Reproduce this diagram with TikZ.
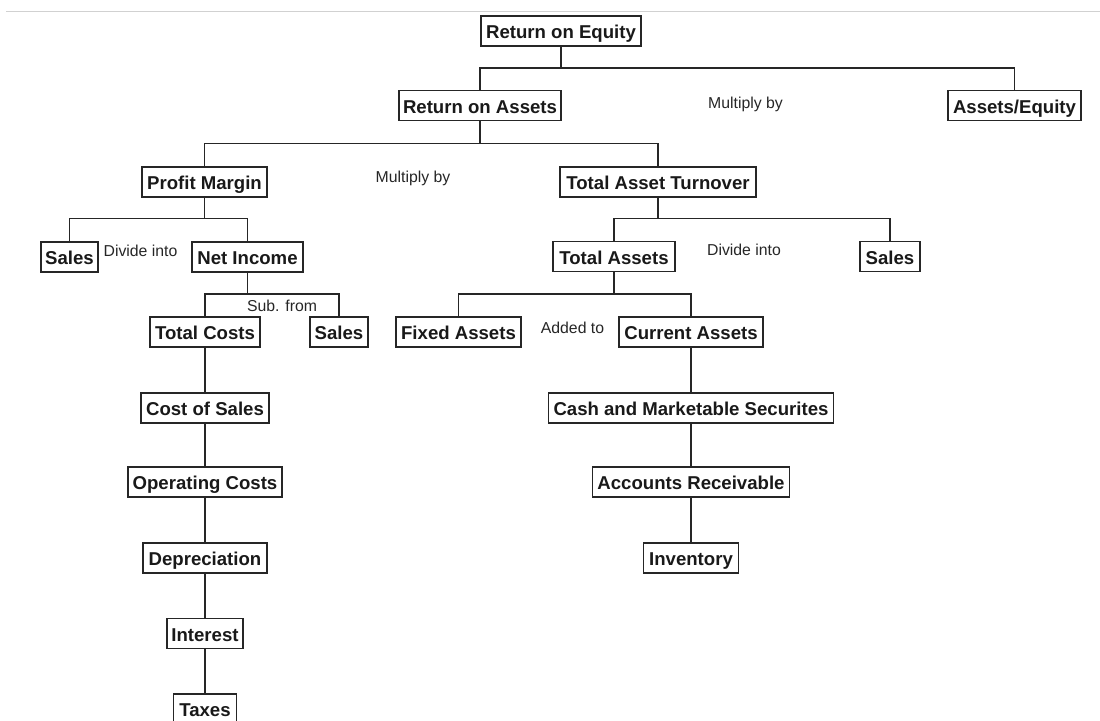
\documentclass[tikz,border=0pt]{standalone}
\usepackage{fontspec}
\setmainfont{Liberation Sans}
\begin{document}
\begin{tikzpicture}[x=1pt,y=-1pt,
  box/.style={draw=black!85,line width=1.3pt,fill=white,minimum height=30pt,inner sep=0pt,
    text height=15pt,text depth=0pt,
    font=\fontsize{18.6}{20}\selectfont\bfseries,text=black!90},
  lbl/.style={inner sep=0pt,font=\fontsize{15.8}{17}\selectfont,text=black!85},
  conn/.style={draw=black!85,line width=1.3pt}]
\useasboundingbox (0,0) rectangle (1100,720);
\draw[black!18,line width=1.5pt] (6,11.5) -- (1100,11.5);
% levels
\coordinate (L1) at (0,68);
\coordinate (L2) at (0,143.5);
\coordinate (L3) at (0,218.5);
\coordinate (L4) at (0,294);
% nodes
\node[box,minimum width=160pt] (roe) at (561,31) {Return on Equity};
\node[box,minimum width=162pt] (roa) at (480,105.5) {Return on Assets};
\node[box,minimum width=133pt] (ae) at (1014.5,105.5) {Assets/Equity};
\node[box,minimum width=125pt] (pm) at (204.5,182) {Profit Margin};
\node[box,minimum width=196pt] (tat) at (658,182) {Total Asset Turnover};
\node[box,minimum width=57pt] (salesL) at (69.5,257) {Sales};
\node[box,minimum width=111pt] (ni) at (247.5,257) {Net Income};
\node[box,minimum width=122pt] (ta) at (614,256.5) {Total Assets};
\node[box,minimum width=60pt] (salesR) at (890,256.5) {Sales};
\node[box,minimum width=110pt] (tc) at (205,332) {Total Costs};
\node[box,minimum width=58pt] (salesM) at (339,332) {Sales};
\node[box,minimum width=125pt] (fa) at (458.5,332) {Fixed Assets};
\node[box,minimum width=144pt] (ca) at (691,332) {Current Assets};
\node[box,minimum width=128pt] (cos) at (205,408) {Cost of Sales};
\node[box,minimum width=154pt] (oc) at (205,482) {Operating Costs};
\node[box,minimum width=124pt] (dep) at (205,558) {Depreciation};
\node[box,minimum width=76pt] (int) at (205,633.5) {Interest};
\node[box,minimum width=63pt] (tax) at (205,709) {Taxes};
\node[box,minimum width=285pt] (cms) at (691,408) {Cash and Marketable Securites};
\node[box,minimum width=197pt] (ar) at (691,482) {Accounts Receivable};
\node[box,minimum width=95pt] (inv) at (691,558) {Inventory};
% labels
\node[lbl] (m1) at (745.5,104) {Multiply by};
\node[lbl] (m2) at (413,178) {Multiply by};
\node[lbl] (d1) at (140.5,251) {Divide into};
\node[lbl] (d2) at (744,250) {Divide into};
\node[lbl] (s1) at (282,306) {Sub. from};
\node[lbl] (a1) at (572.5,328) {Added to};
% forks
\draw[conn] (roe.south) -- (roe.south |- L1);
\draw[conn] (roa.north) -- (roa.north |- L1) -- (ae.north |- L1) -- (ae.north);
\draw[conn] (roa.south) -- (roa.south |- L2);
\draw[conn] (pm.north) -- (pm.north |- L2) -- (tat.north |- L2) -- (tat.north);
\draw[conn] (pm.south) -- (pm.south |- L3);
\draw[conn] (salesL.north) -- (salesL.north |- L3) -- (ni.north |- L3) -- (ni.north);
\draw[conn] (tat.south) -- (tat.south |- L3);
\draw[conn] (ta.north) -- (ta.north |- L3) -- (salesR.north |- L3) -- (salesR.north);
\draw[conn] (ni.south) -- (ni.south |- L4);
\draw[conn] (tc.north) -- (tc.north |- L4) -- (salesM.north |- L4) -- (salesM.north);
\draw[conn] (ta.south) -- (ta.south |- L4);
\draw[conn] (fa.north) -- (fa.north |- L4) -- (ca.north |- L4) -- (ca.north);
% chains
\draw[conn] (tc.south) -- (cos.north);
\draw[conn] (cos.south) -- (oc.north);
\draw[conn] (oc.south) -- (dep.north);
\draw[conn] (dep.south) -- (int.north);
\draw[conn] (int.south) -- (tax.north);
\draw[conn] (ca.south) -- (cms.north);
\draw[conn] (cms.south) -- (ar.north);
\draw[conn] (ar.south) -- (inv.north);
\end{tikzpicture}
\end{document}
